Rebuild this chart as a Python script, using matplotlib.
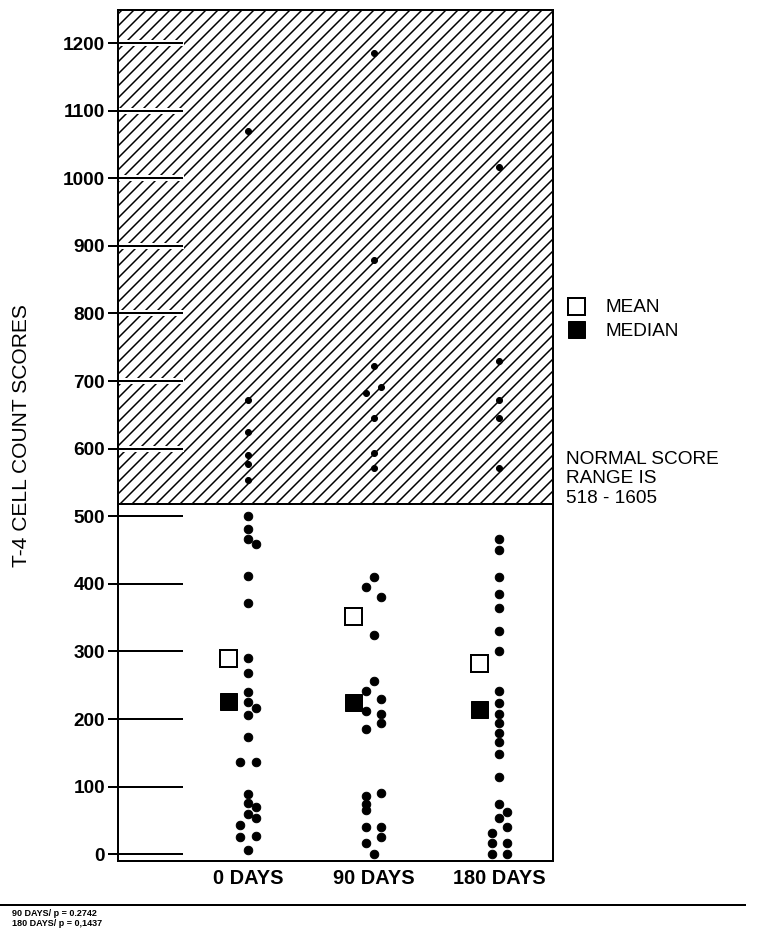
import numpy as np
import matplotlib
matplotlib.use('Agg')
import matplotlib.pyplot as plt
from matplotlib.lines import Line2D

# values
days = ['0 DAYS', '90 DAYS', '180 DAYS']

scores_0 = [1070, 672, 624, 590, 578, 553, 500, 481, 466, 459, 411, 371,
            291, 268, 240, 225, 216, 206, 173, 136, 136,
            89, 76, 70, 59, 53, 43, 27, 25, 7]
side_0 = [0, 0, 0, 0, 0, 0, 0, 0, 0, 1, 0, 0,
          0, 0, 0, 0, 1, 0, 0, -1, 1,
          0, 0, 1, 0, 1, -1, 1, -1, 0]

scores_90 = [1185, 879, 723, 691, 682, 646, 593, 571, 410, 395, 380, 324,
             256, 241, 230, 212, 207, 194, 185,
             90, 86, 75, 65, 40, 40, 25, 16, 0]
side_90 = [0, 0, 0, 1, -1, 0, 0, 0, 0, -1, 1, 0,
           0, -1, 1, -1, 1, 1, -1,
           1, -1, -1, -1, -1, 1, 1, -1, 0]

scores_180 = [1016, 729, 672, 645, 571, 466, 450, 410, 385, 364, 330, 300,
              242, 224, 208, 194, 179, 166, 149, 114,
              75, 62, 53, 40, 31, 16, 16, 0, 0]
side_180 = [0, 0, 0, 0, 0, 0, 0, 0, 0, 0, 0, 0,
            0, 0, 0, 0, 0, 0, 0, 0,
            0, 1, 0, 1, -1, -1, 1, -1, 1]

means = [291, 352, 283]
medians = [226, 225, 215]

normal_low = 518
yticks = list(range(0, 1201, 100))
p_notes = ['90 DAYS/ p = 0.2742', '180 DAYS/ p = 0,1437']

plt.rcParams['font.family'] = ['Liberation Sans', 'DejaVu Sans']
plt.rcParams['hatch.linewidth'] = 1.5

DPI = 72
fig = plt.figure(figsize=(760 / DPI, 936 / DPI), dpi=DPI)
ax = fig.add_axes([118 / 760, 1 - 861 / 936, 435 / 760, 851 / 936])
ax.set_xlim(-1.036, 2.43)
ax.set_ylim(-10, 1249)

# hatched normal range
ax.axhspan(normal_low, 1249, facecolor='white', edgecolor='black', hatch='//', linewidth=0, zorder=0)
ax.axhline(normal_low, color='black', lw=2, zorder=1)

# long tick bars running into the plot
ytr = ax.get_yaxis_transform()
for t in yticks:
    if t > normal_low:
        ax.plot([0, 0.152], [t, t], transform=ytr, color='white', lw=6, solid_capstyle='butt', zorder=1)
    ax.plot([0, 0.149], [t, t], transform=ytr, color='black', lw=2, solid_capstyle='butt', zorder=2)

groups = [(scores_0, side_0), (scores_90, side_90), (scores_180, side_180)]
for i, (vals, sides) in enumerate(groups):
    vals = np.array(vals)
    x = i + np.array(sides) * 0.06
    hi = vals > normal_low
    ax.plot(x[hi], vals[hi], 'o', ms=6, color='black', zorder=3)
    ax.plot(x[~hi], vals[~hi], 'o', ms=8.5, color='black', zorder=3)

pos = np.arange(len(days)) - 0.16
ax.plot(pos, means, 's', ms=17, mfc='white', mec='black', mew=2, zorder=4)
ax.plot(pos, medians, 's', ms=17, color='black', mew=1, zorder=4)

ax.set_yticks(yticks)
ax.tick_params(axis='y', direction='out', length=10, width=2, pad=3, labelsize=19)
ax.set_xticks(range(len(days)))
ax.set_xticklabels(days)
ax.tick_params(axis='x', length=0, pad=8, labelsize=20)
for lab in ax.get_xticklabels() + ax.get_yticklabels():
    lab.set_fontweight('bold')
for s in ax.spines.values():
    s.set_linewidth(2)

ax.set_ylabel('T-4 CELL COUNT SCORES', fontsize=21)
ax.yaxis.set_label_coords(-0.2, 0.5)

handles = [Line2D([], [], ls='none', marker='s', ms=17, mfc='white', mec='black', mew=2),
           Line2D([], [], ls='none', marker='s', ms=17, color='black')]
ax.legend(handles, ['MEAN', 'MEDIAN'], loc='upper left',
          bbox_to_anchor=((566 - 118) / 435, (861 - 299) / 851),
          frameon=False, fontsize=19, handlelength=1.0, handletextpad=1.1,
          labelspacing=0.33, borderpad=0, borderaxespad=0)

ax.text((566 - 118) / 435, (861 - 479) / 851, 'NORMAL SCORE\nRANGE IS\n518 - 1605',
        transform=ax.transAxes, fontsize=19, va='center', ha='left', linespacing=1.22)

fig.add_artist(Line2D([0, 745 / 760], [1 - 905 / 936] * 2, color='black', lw=2,
                      transform=fig.transFigure))
for k, note in enumerate(p_notes):
    fig.text(12 / 760, 1 - (913 + 10 * k) / 936, note, fontsize=9, fontweight='bold', va='center')

fig.savefig('out.png', dpi=DPI)
